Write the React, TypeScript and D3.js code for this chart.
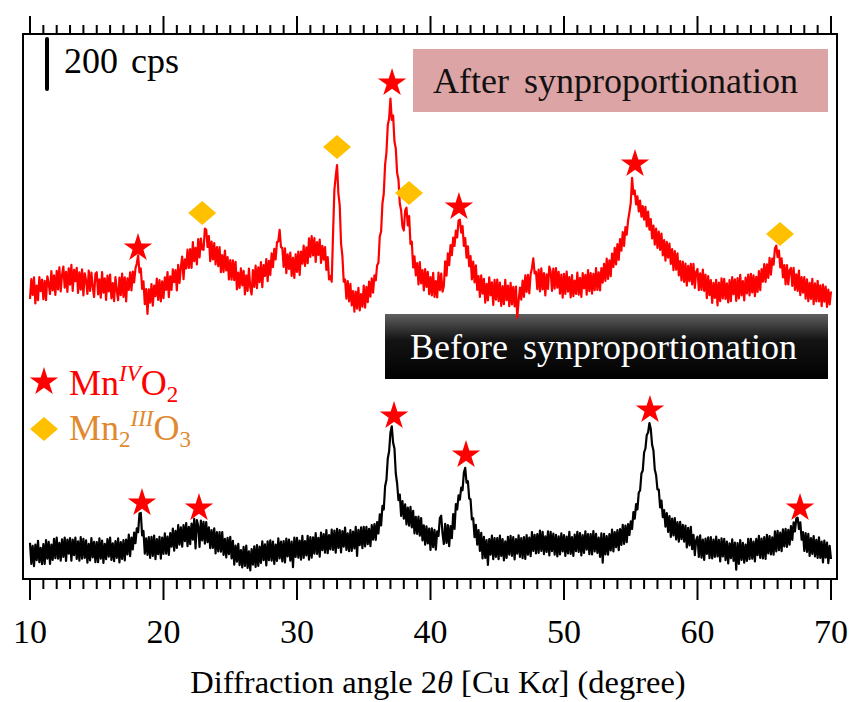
import React from 'react';
import * as d3 from 'd3';

// Sampling grid of the diffraction patterns (degrees 2θ)
const ANGLE_START = 10;
const ANGLE_STEP = 0.1;

// "After synproportionation" intensity (cps), 10.0° … 70.0° every 0.1°
const afterCps = [
  120,200,136,207,102,174,115,208,151,198,
  119,193,115,211,183,140,232,154,215,136,
  233,158,247,150,216,250,165,229,148,243,
  177,257,152,237,191,245,144,227,157,239,
  134,223,195,140,234,152,226,169,128,221,
  227,138,199,125,228,145,203,116,214,150,
  218,122,184,111,208,155,115,206,135,222,
  128,207,110,203,156,227,154,230,186,242,
  262,295,226,242,160,191,99,160,60,159,
  105,180,93,174,131,202,116,196,110,191,
  123,207,156,228,127,211,156,239,187,236,
  154,257,184,246,290,199,279,242,318,244,
  320,244,348,271,325,258,360,286,362,319,
  317,402,397,328,372,271,350,278,344,258,
  328,251,328,227,296,228,314,234,288,198,
  276,197,275,195,269,158,226,164,243,174,
  233,138,215,152,242,166,138,236,168,254,
  163,247,187,268,167,256,212,280,191,273,
  216,303,247,321,278,347,351,397,328,324,
  248,323,223,299,240,306,212,285,204,299,
  228,310,216,310,261,334,252,327,263,363,
  288,372,294,364,268,348,296,358,264,333,
  277,328,236,288,198,212,189,380,556,610,
  656,542,495,342,292,189,198,121,192,110,
  181,94,152,69,150,81,165,74,140,89,
  174,85,169,107,190,129,203,145,215,194,
  254,265,370,390,502,542,658,706,815,842,
  922,836,854,750,722,624,598,502,474,409,
  394,473,485,414,452,340,349,246,291,214,
  264,178,268,182,236,154,240,168,229,139,
  208,134,225,128,192,126,226,155,222,149,
  172,271,213,303,255,336,295,366,332,394,
  366,433,437,385,412,332,364,285,331,251,
  292,198,270,186,255,156,212,128,215,141,
  201,105,181,114,207,134,187,96,197,117,
  198,111,186,92,172,99,197,115,174,91,
  185,98,169,90,170,45,112,166,117,194,
  128,215,148,217,142,219,243,283,222,229,
  159,238,150,243,158,224,134,219,160,250,
  231,152,242,161,244,165,229,141,218,125,
  221,140,230,149,208,126,216,131,194,140,
  226,137,205,128,224,162,217,137,236,151,
  224,141,221,155,244,156,227,154,244,185,
  261,192,282,200,275,211,302,248,325,258,
  340,276,360,313,388,332,408,377,434,467,
  504,605,539,554,498,531,470,514,449,492,
  437,489,410,470,397,440,362,414,337,402,
  324,390,316,382,294,356,273,349,285,342,
  260,320,235,312,237,303,214,272,194,270,
  188,262,173,253,191,261,178,261,164,228,
  240,155,223,156,238,152,218,123,212,135,
  196,104,185,124,197,94,186,111,203,122,
  201,120,183,106,196,111,208,139,199,112,
  204,122,217,134,192,114,206,142,218,134,
  221,146,215,131,209,148,232,155,240,189,
  260,188,259,204,285,217,282,257,322,333,
  288,314,246,283,206,256,178,256,178,236,
  244,172,245,156,219,152,234,135,208,145,
  208,121,199,111,185,120,201,99,183,110,
  193,110,175,91,178,109,170,88,158,98,
  150,
];

// "Before synproportionation" intensity (cps), 10.0° … 70.0° every 0.1°
const beforeCps = [
  145,60,133,51,138,75,153,67,125,59,
  140,60,156,81,149,60,138,76,161,83,
  166,81,145,73,159,88,166,72,158,101,
  164,73,158,95,166,80,151,73,168,81,
  161,84,155,65,141,74,164,86,149,67,
  148,67,163,81,154,64,141,79,160,89,
  166,76,143,71,152,84,163,66,148,80,
  156,74,158,98,178,91,166,118,186,143,
  203,187,262,264,174,192,101,163,96,168,
  84,169,92,174,79,160,99,169,81,166,
  100,183,101,170,96,184,129,202,113,193,
  124,216,137,207,129,216,151,224,131,209,
  139,222,157,241,122,236,212,128,234,154,
  229,141,228,147,207,123,196,124,203,102,
  188,110,188,109,188,96,161,86,165,99,
  169,82,153,57,134,69,141,55,116,46,
  129,52,134,44,111,34,120,57,131,48,
  136,52,130,64,151,75,139,54,151,75,
  155,73,150,60,138,72,163,82,150,70,
  152,66,162,90,158,73,150,47,166,88,
  165,85,154,77,173,84,152,94,173,77,
  168,85,167,101,184,100,165,89,186,115,
  180,105,196,103,176,118,198,116,194,105,
  201,124,196,106,192,129,206,116,183,111,
  196,112,190,122,209,92,197,135,207,123,
  209,130,209,139,201,131,216,157,220,156,
  228,182,259,214,293,278,371,397,482,511,
  585,611,545,522,422,382,315,338,252,312,
  241,299,218,286,213,289,206,273,182,249,
  180,250,173,244,154,215,137,211,142,202,
  116,203,127,197,117,191,172,244,253,183,
  140,221,144,216,131,212,163,260,200,300,
  278,335,317,366,355,425,445,385,391,322,
  318,238,243,167,217,137,196,112,185,82,
  169,84,156,56,160,97,174,79,164,88,
  164,79,174,92,160,74,151,84,169,97,
  173,92,168,78,160,101,175,88,164,83,
  168,80,176,97,166,91,188,112,177,102,
  180,104,194,112,189,99,171,108,191,94,
  189,111,182,97,177,90,171,98,183,110,
  176,92,170,102,189,100,168,92,178,111,
  189,108,184,94,176,104,191,117,180,99,
  180,98,192,110,181,104,166,88,183,65,
  181,98,172,97,180,114,198,110,188,127,
  196,115,200,136,217,140,214,147,220,176,
  231,200,268,241,300,278,346,354,422,434,
  506,522,576,586,624,600,537,514,438,415,
  358,358,286,314,247,276,209,264,188,252,
  168,242,174,244,158,228,149,229,159,217,
  149,214,126,205,134,209,119,177,95,155,
  169,88,175,85,158,76,162,100,167,83,
  168,82,158,88,170,90,157,70,163,90,
  161,75,150,62,143,83,159,72,146,37,
  144,60,156,76,145,65,138,72,161,79,
  161,81,150,70,161,95,173,84,162,82,
  168,80,177,102,172,98,167,97,191,110,
  193,115,186,111,199,130,201,128,197,137,
  212,156,227,190,242,245,200,227,157,188,
  112,184,108,181,92,164,100,172,90,157,
  84,167,84,150,66,154,85,146,63,133,
  80,
];

// vertical offset of the upper pattern (cps)
const AFTER_OFFSET = 1000;

// peak markers [angle, cps]
const afterStars = [[18.09, 324], [37.12, 984], [42.13, 488], [55.32, 660]];
const afterDiamonds = [[22.9, 464], [33.0, 728], [38.39, 544], [66.18, 380]];
const beforeStars = [[18.39, 304], [22.66, 284], [37.27, 652], [42.66, 496], [56.44, 676], [67.68, 284]];

const xMajorTicks = [10, 20, 30, 40, 50, 60, 70];
const xMinorTicks = d3.range(11, 70).filter((v) => v % 10 !== 0);
const scaleBarCps = [1960, 2160]; // 200 cps

const FONT = "'Liberation Serif', 'Times New Roman', serif";

export default function App() {
  const W = 850, H = 702;
  const x = d3.scaleLinear().domain([10, 70]).range([30, 831]);
  const y = d3.scaleLinear().domain([0, 2180]).range([579, 34]);
  const frame = { left: 23, right: 837, top: 34, bottom: 579 };

  const afterPath = d3.line<number>()
    .x((_, i) => x(ANGLE_START + i * ANGLE_STEP))
    .y((d) => y(d + AFTER_OFFSET))(afterCps) as string;
  const beforePath = d3.line<number>()
    .x((_, i) => x(ANGLE_START + i * ANGLE_STEP))
    .y((d) => y(d))(beforeCps) as string;

  const star = d3.symbol(d3.symbolStar, 250)() as string;
  const diamond = 'M0,-12L14,0L0,12L-14,0Z';

  return (
    <svg width={W} height={H} style={{ position: 'absolute', left: 0, top: 0, background: '#fff' }}
      fontFamily={FONT}>
      <defs>
        <linearGradient id="blackGrad" x1="0" y1="0" x2="0" y2="1">
          <stop offset="0" stopColor="#606060" />
          <stop offset="0.4" stopColor="#141414" />
          <stop offset="1" stopColor="#000" />
        </linearGradient>
      </defs>

      {/* frame */}
      <rect x={frame.left} y={frame.top} width={frame.right - frame.left} height={frame.bottom - frame.top}
        fill="none" stroke="#000" strokeWidth={2} />

      {/* ticks bottom and top */}
      {xMajorTicks.map((t) => (
        <g key={'M' + t}>
          <line x1={x(t)} x2={x(t)} y1={frame.bottom} y2={frame.bottom + 21} stroke="#000" strokeWidth={2} />
          <line x1={x(t)} x2={x(t)} y1={frame.top} y2={frame.top - 18} stroke="#000" strokeWidth={2} />
          <text x={x(t)} y={643} fontSize={34} textAnchor="middle" fill="#000">{t}</text>
        </g>
      ))}
      {xMinorTicks.map((t) => (
        <g key={'m' + t}>
          <line x1={x(t)} x2={x(t)} y1={frame.bottom} y2={frame.bottom + 10} stroke="#000" strokeWidth={2} />
          <line x1={x(t)} x2={x(t)} y1={frame.top} y2={frame.top - 9} stroke="#000" strokeWidth={2} />
        </g>
      ))}

      {/* axis title */}
      <text x={438} y={693} fontSize={32.5} textAnchor="middle" fill="#000">
        Diffraction angle 2<tspan fontStyle="italic">θ</tspan> [Cu K<tspan fontStyle="italic">α</tspan>] (degree)
      </text>

      {/* label boxes */}
      <rect x={413} y={49} width={415} height={63} fill="#dca4a4" />
      <text x={433} y={93} fontSize={36} fill="#111" wordSpacing={6}>After synproportionation</text>
      <rect x={385} y={314} width={443} height={65} fill="url(#blackGrad)" />
      <text x={410} y={359} fontSize={36} fill="#fff" wordSpacing={6}>Before synproportionation</text>

      {/* scale bar */}
      <line x1={47} x2={47} y1={y(scaleBarCps[0])} y2={y(scaleBarCps[1])} stroke="#000" strokeWidth={4} strokeLinecap="round" />
      <text x={64} y={73} fontSize={36} fill="#000" wordSpacing={4}>200 cps</text>

      {/* patterns */}
      <path d={beforePath} fill="none" stroke="#000" strokeWidth={2.2} strokeLinejoin="round" />
      <path d={afterPath} fill="none" stroke="#ff0000" strokeWidth={2.2} strokeLinejoin="round" />

      {/* markers */}
      {afterStars.map(([a, c], i) => (
        <path key={'as' + i} d={star} transform={`translate(${x(a)},${y(c + AFTER_OFFSET)})`} fill="#ff0000" />
      ))}
      {afterDiamonds.map(([a, c], i) => (
        <path key={'ad' + i} d={diamond} transform={`translate(${x(a)},${y(c + AFTER_OFFSET)})`} fill="#ffc000" />
      ))}
      {beforeStars.map(([a, c], i) => (
        <path key={'bs' + i} d={star} transform={`translate(${x(a)},${y(c)})`} fill="#ff0000" />
      ))}

      {/* legend */}
      <path d={star} transform="translate(44,382)" fill="#ff0000" />
      <text x={69} y={395} fontSize={36} fill="#ff0000">
        Mn<tspan fontSize={23} fontStyle="italic" dy={-14}>IV</tspan><tspan dy={14}>O</tspan><tspan fontSize={23} dy={7}>2</tspan>
      </text>
      <path d={diamond} transform="translate(44,429)" fill="#ffc000" />
      <text x={69} y={440} fontSize={36} fill="#e0892f">
        Mn<tspan fontSize={23} dy={7}>2</tspan><tspan fontSize={23} fontStyle="italic" dy={-21}>III</tspan><tspan dy={14}>O</tspan><tspan fontSize={23} dy={7}>3</tspan>
      </text>
    </svg>
  );
}
